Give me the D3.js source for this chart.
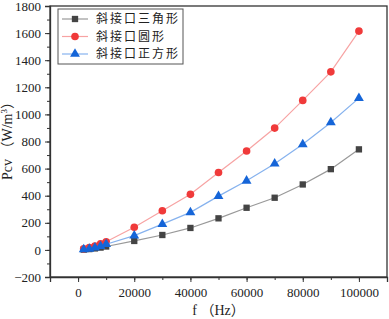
<!DOCTYPE html>
<html>
<head>
<meta charset="utf-8">
<script src="https://cdn.jsdelivr.net/npm/d3@7"></script>
<style>
  body { margin: 0; background: #fff; }
  .tick text { font-family: "Liberation Serif", serif; font-size: 13px; fill: #222; }
  .axis-label { font-family: "Liberation Serif", "Noto Sans CJK SC", serif; font-size: 14px; fill: #222; }
  .legend-text { font-family: "Noto Sans CJK SC", sans-serif; font-size: 12px; letter-spacing: 2px; fill: #222; }
</style>
</head>
<body>
<svg id="chart"></svg>
<script>
// frequency (Hz)
const freqs = [2000, 4000, 6000, 8000, 10000, 20000, 30000, 40000, 50000, 60000, 70000, 80000, 90000, 100000];
const seriesNames = ['斜接口三角形', '斜接口圆形', '斜接口正方形'];
const triangleVals = [2, 6, 11, 17, 25, 66, 110, 162, 233, 311, 385, 483, 596, 742];
const circleVals = [8, 17, 28, 44, 60, 167, 289, 410, 571, 730, 899, 1103, 1314, 1615];
const squareVals = [3, 8, 16, 28, 42, 105, 190, 277, 397, 510, 636, 779, 940, 1120];
const xTicks = [0, 20000, 40000, 60000, 80000, 100000];
const yTicks = [-200, 0, 200, 400, 600, 800, 1000, 1200, 1400, 1600, 1800];

const width = 389, height = 319;
const margin = { top: 6, right: 2, bottom: 42, left: 50 };
const innerW = width - margin.left - margin.right;
const innerH = height - margin.top - margin.bottom;

const svg = d3.select('#chart').attr('width', width).attr('height', height);
const chart = svg.append('g').attr('transform', `translate(${margin.left},${margin.top})`);

const xScale = d3.scaleLinear().domain([-10000, 110000]).range([0, innerW]);
const yScale = d3.scaleLinear().domain([-200, 1800]).range([innerH, 0]);

const series = [
    { name: seriesNames[0], values: triangleVals, marker: d3.symbolSquare, size: 40, fill: '#444', line: '#999' },
    { name: seriesNames[1], values: circleVals, marker: d3.symbolCircle, size: 46, fill: '#f03a3a', line: '#f7a3a3' },
    { name: seriesNames[2], values: squareVals, marker: d3.symbolTriangle, size: 42, fill: '#1565d8', line: '#86b2ee' }
];

// minor ticks
chart.append('g')
    .attr('transform', `translate(0,${innerH})`)
    .call(d3.axisBottom(xScale).tickValues(d3.range(-10000, 110001, 10000)).tickSize(3).tickFormat(''))
    .call(g => g.select('.domain').remove())
    .selectAll('line').attr('stroke', '#333');
chart.append('g')
    .call(d3.axisLeft(yScale).tickValues(d3.range(-200, 1801, 100)).tickSize(3).tickFormat(''))
    .call(g => g.select('.domain').remove())
    .selectAll('line').attr('stroke', '#333');

// major axes
const xAxisG = chart.append('g')
    .attr('transform', `translate(0,${innerH})`)
    .call(d3.axisBottom(xScale).tickValues(xTicks).tickSize(5).tickPadding(6).tickFormat(d3.format('d')));
const yAxisG = chart.append('g')
    .call(d3.axisLeft(yScale).tickValues(yTicks).tickSize(5).tickPadding(4)
        .tickFormat(d => d < 0 ? '\u2212' + Math.abs(d) : d));
[xAxisG, yAxisG].forEach(g => {
    g.select('.domain').attr('stroke', '#333').attr('stroke-width', 1.3);
    g.selectAll('.tick line').attr('stroke', '#333');
});

// frame
chart.append('rect')
    .attr('width', innerW).attr('height', innerH)
    .attr('fill', 'none').attr('stroke', '#333').attr('stroke-width', 1.3);

// lines and markers
const line = d3.line()
    .x((d, i) => xScale(freqs[i]))
    .y(d => yScale(d));

series.forEach(s => {
    chart.append('path')
        .attr('d', line(s.values))
        .attr('fill', 'none')
        .attr('stroke', s.line)
        .attr('stroke-width', 1.2);
    chart.selectAll(null)
        .data(s.values)
        .join('path')
        .attr('transform', (d, i) => `translate(${xScale(freqs[i])},${yScale(d)})`)
        .attr('d', d3.symbol().type(s.marker).size(s.size))
        .attr('fill', s.fill);
});

// axis labels
chart.append('text')
    .attr('class', 'axis-label')
    .attr('x', innerW / 2)
    .attr('y', innerH + 38)
    .attr('text-anchor', 'middle')
    .text('f \uff08Hz\uff09');

const yLab = chart.append('text')
    .attr('class', 'axis-label')
    .attr('transform', 'rotate(-90)')
    .attr('x', -innerH / 2 + 4)
    .attr('y', -38)
    .attr('text-anchor', 'middle');
yLab.append('tspan').text('Pcv \uff08W/m');
yLab.append('tspan').attr('dy', -5).attr('font-size', 9).text('3');
yLab.append('tspan').attr('dy', 5).text('\uff09');

// legend
const legend = chart.append('g').attr('transform', 'translate(8,3)');
legend.append('rect')
    .attr('width', 125).attr('height', 55)
    .attr('fill', '#fff').attr('stroke', '#555').attr('stroke-width', 1);
series.forEach((s, i) => {
    const row = legend.append('g').attr('transform', `translate(0,${10 + i * 17.5})`);
    row.append('line')
        .attr('x1', 4).attr('x2', 30)
        .attr('stroke', s.line).attr('stroke-width', 1.2);
    row.append('path')
        .attr('transform', 'translate(17,0)')
        .attr('d', d3.symbol().type(s.marker).size(s.size))
        .attr('fill', s.fill);
    row.append('text')
        .attr('class', 'legend-text')
        .attr('x', 38)
        .attr('dy', '0.35em')
        .text(s.name);
});
</script>
</body>
</html>
